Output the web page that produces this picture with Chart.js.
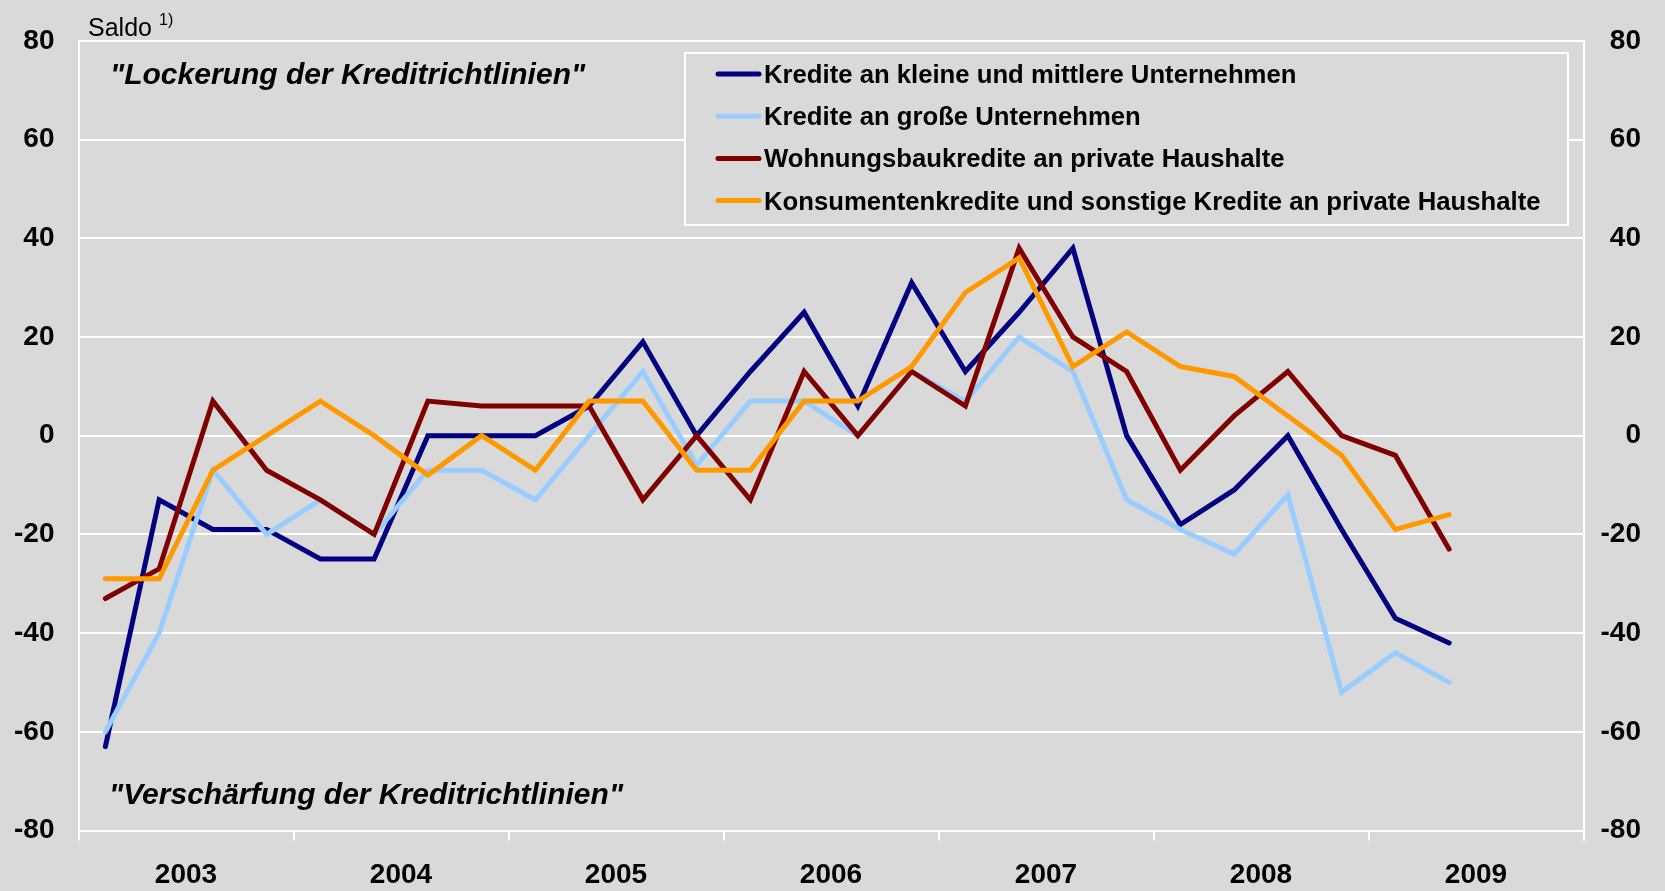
<!DOCTYPE html>
<html>
<head>
<meta charset="utf-8">
<script src="https://cdn.jsdelivr.net/npm/chart.js@4/dist/chart.umd.min.js"></script>
<style>
  html, body { margin: 0; padding: 0; background: #D9D9D9; }
  #wrap { width: 1665px; height: 891px; }
</style>
</head>
<body>
<div id="wrap"><canvas id="kreditChart" width="1665" height="891"></canvas></div>
<script>
// Quartale 2003 Q1 bis 2009 Q2
const quarters = [
    '2003 Q1', '2003 Q2', '2003 Q3', '2003 Q4',
    '2004 Q1', '2004 Q2', '2004 Q3', '2004 Q4',
    '2005 Q1', '2005 Q2', '2005 Q3', '2005 Q4',
    '2006 Q1', '2006 Q2', '2006 Q3', '2006 Q4',
    '2007 Q1', '2007 Q2', '2007 Q3', '2007 Q4',
    '2008 Q1', '2008 Q2', '2008 Q3', '2008 Q4',
    '2009 Q1', '2009 Q2'
];
const years = ['2003', '2004', '2005', '2006', '2007', '2008', '2009'];
const yTicks = [-80, -60, -40, -20, 0, 20, 40, 60, 80];

const kmuKredite = [-63, -13, -19, -19, -25, -25, 0, 0, 0, 6, 19, 0, 13, 25, 6, 31, 13, 25, 38, 0, -18, -11, 0, -19, -37, -42];
const grosseKredite = [-60, -40, -7, -20, -13, -20, -7, -7, -13, 0, 13, -6, 7, 7, 0, 13, 7, 20, 13, -13, -19, -24, -12, -52, -44, -50];
const wohnungsbau = [-33, -27, 7, -7, -13, -20, 7, 6, 6, 6, -13, 0, -13, 13, 0, 13, 6, 38, 20, 13, -7, 4, 13, 0, -4, -23];
const konsumenten = [-29, -29, -7, 0, 7, 0, -8, 0, -7, 7, 7, -7, -7, 7, 7, 14, 29, 36, 14, 21, 14, 12, 4, -4, -19, -16];

const seriesNames = [
    'Kredite an kleine und mittlere Unternehmen',
    'Kredite an große Unternehmen',
    'Wohnungsbaukredite an private Haushalte',
    'Konsumentenkredite und sonstige Kredite an private Haushalte'
];
const seriesColors = ['#000080', '#99CCFF', '#800000', '#FF9900'];

const FONT = "'Liberation Sans', Arial, sans-serif";
Chart.defaults.font.family = FONT;
Chart.defaults.color = '#000000';

// each quarter sits in the middle of its slot on a 0..28 axis
function toPoints(values) {
    return values.map((v, i) => ({ x: i + 0.5, y: v }));
}

// legend box and the text notes on the plot
const notesPlugin = {
    id: 'notes',
    afterDraw(chart) {
        const ctx = chart.ctx;
        ctx.save();

        ctx.fillStyle = '#000000';
        ctx.textBaseline = 'alphabetic';
        ctx.textAlign = 'left';
        ctx.font = '25px ' + FONT;
        ctx.fillText('Saldo', 88, 36);
        ctx.font = '16px ' + FONT;
        ctx.fillText('1)', 159, 25);

        ctx.font = 'italic bold 30px ' + FONT;
        ctx.fillText('"Lockerung der Kreditrichtlinien"', 110, 84);
        ctx.fillText('"Verschärfung der Kreditrichtlinien"', 109, 804);

        // legend
        ctx.fillStyle = '#D9D9D9';
        ctx.fillRect(685, 53, 883, 172);
        ctx.strokeStyle = '#FFFFFF';
        ctx.lineWidth = 2;
        ctx.strokeRect(685, 53, 883, 172);

        ctx.font = 'bold 25.7px ' + FONT;
        ctx.textBaseline = 'middle';
        chart.data.datasets.forEach((ds, i) => {
            const y = 74 + i * 42.2;
            ctx.strokeStyle = ds.borderColor;
            ctx.lineWidth = 5;
            ctx.lineCap = 'round';
            ctx.beginPath();
            ctx.moveTo(718, y);
            ctx.lineTo(759, y);
            ctx.stroke();
            ctx.fillStyle = '#000000';
            ctx.fillText(ds.label, 764, y + 2);
        });
        ctx.restore();
    }
};

const datasets = [kmuKredite, grosseKredite, wohnungsbau, konsumenten].map((vals, i) => ({
    label: seriesNames[i],
    data: toPoints(vals),
    borderColor: seriesColors[i],
    backgroundColor: seriesColors[i],
    borderWidth: 5,
    pointRadius: 0,
    tension: 0,
    fill: false,
    borderCapStyle: 'round',
    xAxisID: 'xq',
    yAxisID: 'y',
    order: 4 - i
}));

const ctx = document.getElementById('kreditChart').getContext('2d');
new Chart(ctx, {
    type: 'line',
    data: { labels: years, datasets: datasets },
    options: {
        responsive: false,
        animation: false,
        layout: { padding: { top: 39, left: 0, right: 24, bottom: 0 } },
        plugins: {
            legend: { display: false },
            tooltip: { enabled: false }
        },
        scales: {
            xq: {
                type: 'linear',
                display: false,
                min: 0,
                max: 28
            },
            x: {
                type: 'category',
                position: 'bottom',
                offset: true,
                grid: {
                    offset: true,
                    drawOnChartArea: false,
                    color: '#FFFFFF',
                    lineWidth: 2,
                    tickLength: 10
                },
                border: { color: '#FFFFFF', width: 2 },
                ticks: {
                    font: { size: 28, weight: 'bold' },
                    color: '#000000',
                    padding: 18,
                    maxRotation: 0
                },
                afterFit(scale) { scale.height = 60.5; }
            },
            y: {
                position: 'left',
                min: -80,
                max: 80,
                afterBuildTicks(scale) { scale.ticks = yTicks.map(v => ({ value: v })); },
                grid: { color: '#FFFFFF', lineWidth: 2, drawTicks: false },
                border: { color: '#FFFFFF', width: 2 },
                ticks: {
                    font: { size: 28, weight: 'bold' },
                    color: '#000000',
                    padding: 24
                },
                afterFit(scale) { scale.width = 78.5; }
            },
            y2: {
                position: 'right',
                min: -80,
                max: 80,
                afterBuildTicks(scale) { scale.ticks = yTicks.map(v => ({ value: v })); },
                grid: { drawOnChartArea: false, drawTicks: false },
                border: { color: '#FFFFFF', width: 2 },
                ticks: {
                    font: { size: 28, weight: 'bold' },
                    color: '#000000',
                    padding: 16,
                    crossAlign: 'far'
                },
                afterFit(scale) { scale.width = 57.5; }
            }
        }
    },
    plugins: [notesPlugin]
});
</script>
</body>
</html>
